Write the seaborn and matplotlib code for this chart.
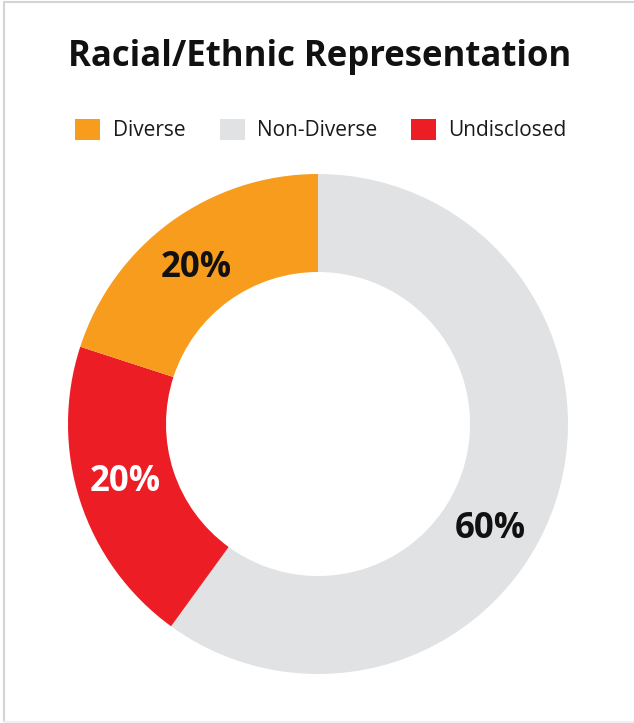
import numpy as np
import matplotlib
matplotlib.use("Agg")
import matplotlib.pyplot as plt
from matplotlib.patches import Patch
from matplotlib.lines import Line2D
import seaborn as sns

# Data
categories = ["Diverse", "Non-Diverse", "Undisclosed"]
shares = [20, 60, 20]
colors = ["#F89C1D", "#E1E2E4", "#EC1D25"]
label_colors = ["#111111", "#111111", "#FFFFFF"]
# Wedges run clockwise from 12 o'clock in this order
ring_order = ["Non-Diverse", "Undisclosed", "Diverse"]

sns.set_theme(style="white")
plt.rcParams["font.family"] = ["Open Sans", "DejaVu Sans"]

W, H = 634, 723
fig = plt.figure(figsize=(W / 100, H / 100), dpi=100)
fig.patch.set_facecolor("white")

# Donut axes: centre at (318, 424) px, radius 250 px
cx, cy, R = 318, 424, 250
ax = fig.add_axes([(cx - R) / W, (H - cy - R) / H, 2 * R / W, 2 * R / H])

idx = [categories.index(c) for c in ring_order]
vals = [shares[i] for i in idx]
cols = [colors[i] for i in idx]
wedges, _ = ax.pie(vals, colors=cols, startangle=90, counterclock=False,
                   radius=1, wedgeprops=dict(width=0.392, linewidth=0))
ax.set_xlim(-1, 1)
ax.set_ylim(-1, 1)
ax.set_aspect("equal")
ax.axis("off")

# Percentage labels placed inside the ring
label_r = 0.80
angle_shift = {"Non-Diverse": -12.5, "Undisclosed": -2, "Diverse": 1.5}
for w, name in zip(wedges, ring_order):
    i = categories.index(name)
    mid = (w.theta1 + w.theta2) / 2 + angle_shift[name]
    x = label_r * np.cos(np.radians(mid))
    y = label_r * np.sin(np.radians(mid)) - 0.012
    ax.text(x, y, f"{shares[i]}%", ha="center", va="center",
            fontsize=25, fontweight="bold", color=label_colors[i])

# Title
fig.text(320 / W, 1 - 57 / H, "Racial/Ethnic Representation",
         ha="center", va="center", fontsize=25, fontweight="bold",
         color="#111111")

# Legend
handles = [Patch(facecolor=c, edgecolor="none") for c in colors]
leg = fig.legend(handles, categories, loc="center", ncol=3,
                 bbox_to_anchor=(321 / W, 1 - 130 / H), frameon=False,
                 fontsize=15, handlelength=1.2, handleheight=1.2,
                 handletextpad=0.58, columnspacing=1.65, borderpad=0)
for t in leg.get_texts():
    t.set_color("#1a1a1a")

# Thin grey frame around the card
frame = dict(color="#D4D4D4", linewidth=1.5, transform=fig.transFigure)
fig.add_artist(Line2D([3.5 / W, 3.5 / W], [1 - 1.5 / H, 1 - 721.5 / H], **frame))
fig.add_artist(Line2D([3.5 / W, 1.0], [1 - 1.5 / H, 1 - 1.5 / H], **frame))
fig.add_artist(Line2D([3.5 / W, 1.0], [1 - 721.5 / H, 1 - 721.5 / H],
                      color="#EFEFEF", linewidth=1.5, transform=fig.transFigure))

fig.savefig("out.png", dpi=100, facecolor="white")
